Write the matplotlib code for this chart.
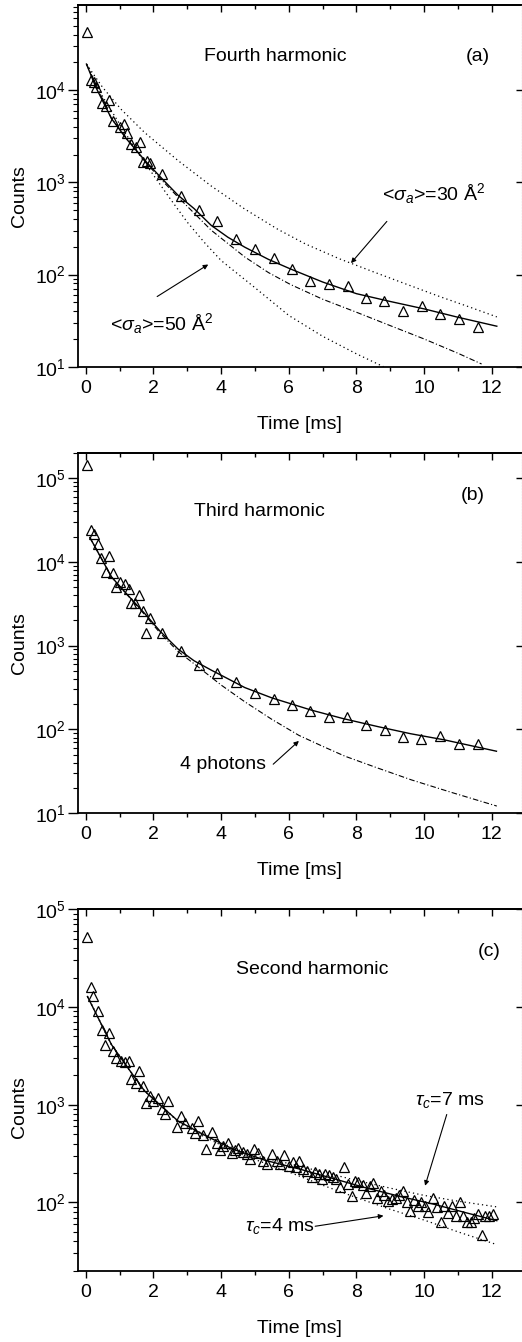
import numpy as np
import matplotlib
matplotlib.use('Agg')
import matplotlib.pyplot as plt
from matplotlib.ticker import LogLocator, NullFormatter, MultipleLocator, NullLocator

plt.rcParams['font.family'] = ['Liberation Sans', 'DejaVu Sans']
plt.rcParams['mathtext.fontset'] = 'custom'
plt.rcParams['mathtext.rm'] = 'Liberation Sans'
plt.rcParams['mathtext.it'] = 'Liberation Sans:italic'
plt.rcParams['mathtext.sf'] = 'Liberation Sans'

# ---------------- Panel (a): Fourth harmonic ----------------
a_t = [0.05, 0.14, 0.24, 0.31, 0.48, 0.59, 0.69, 0.79, 1.00, 1.12, 1.23, 1.35, 1.47,
       1.60, 1.70, 1.81, 1.91, 2.24, 2.80, 3.34, 3.89, 4.45, 5.00, 5.55, 6.10, 6.63,
       7.19, 7.74, 8.29, 8.83, 9.39, 9.93, 10.48, 11.04, 11.60]
a_y = [43000, 12800, 12300, 10700, 7200, 6700, 7800, 4640, 4000, 4260, 3390, 2630, 2420,
       2750, 1660, 1690, 1620, 1220, 710, 497, 377, 242, 190, 151, 114, 86,
       78, 75, 55, 52, 40.6, 45, 37.4, 32.7, 27.2]

a_fit_t = [0.02, 0.3, 0.76, 1.2, 1.74, 2.2, 2.73, 3.2, 3.71, 4.2, 4.7, 5.4, 6.05, 7.0,
           8.0, 9.0, 10.0, 11.0, 12.15]
a_fit_y = [19200, 10700, 4920, 2970, 1740, 1150, 723, 520, 341, 254, 198, 146, 115, 83,
           62, 51, 42.4, 34.4, 27.5]

a_dd_t = [0.02, 0.76, 1.74, 2.2, 2.73, 3.71, 4.7, 5.4, 6.05, 7.0, 8.0, 9.0, 10.0, 11.0, 11.7]
a_dd_y = [19200, 4920, 1700, 1100, 690, 302, 155, 105, 78, 54, 39, 27.9, 20.0, 14.0, 10.7]

a_s30_t = [0.02, 0.5, 1.05, 1.74, 2.73, 3.71, 4.7, 5.68, 6.5, 7.5, 8.5, 9.5, 10.5, 11.3, 12.15]
a_s30_y = [19200, 10700, 6170, 3470, 1720, 912, 513, 309, 214, 148, 107, 78, 57, 45, 34.7]

a_s50_t = [0.02, 0.5, 1.0, 1.5, 2.0, 2.5, 3.0, 3.5, 4.0, 5.0, 6.0, 7.0, 8.0, 8.8]
a_s50_y = [19200, 8500, 4300, 2200, 1200, 660, 370, 224, 142, 72, 36, 21.4, 13.8, 10.0]

# ---------------- Panel (b): Third harmonic ----------------
b_t = [0.04, 0.15, 0.24, 0.36, 0.46, 0.59, 0.69, 0.79, 0.90, 1.02, 1.15, 1.27, 1.35, 1.45,
       1.58, 1.69, 1.79, 1.89, 2.24, 2.80, 3.35, 3.89, 4.44, 4.99, 5.55, 6.10, 6.64,
       7.18, 7.73, 8.29, 8.84, 9.38, 9.92, 10.46, 11.03, 11.58]
b_y = [141000, 23800, 21400, 16500, 11000, 7600, 11700, 7380, 5000, 5750, 5500, 4800, 3230, 3190,
       3980, 2600, 1400, 2110, 1420, 860, 585, 474, 364, 274, 229, 195, 167,
       141, 141, 113, 98, 80.5, 78, 83, 68, 68]

b_fit_t = [0.12, 0.76, 1.2, 1.74, 2.2, 2.73, 3.2, 3.71, 4.2, 4.7, 5.5, 6.67, 7.6, 8.64,
           9.6, 10.61, 12.14]
b_fit_y = [19500, 6600, 4170, 2420, 1480, 908, 660, 510, 403, 316, 238, 170, 135, 108,
           89, 75, 55]

b_dd_t = [0.12, 0.76, 1.74, 2.2, 2.73, 3.32, 4.0, 4.7, 5.5, 6.3, 7.0, 7.66, 8.6, 9.63,
          10.8, 12.15]
b_dd_y = [19500, 6600, 2340, 1410, 850, 558, 339, 214, 132, 85, 63, 48, 35, 25,
          17.8, 12.2]

# ---------------- Panel (c): Second harmonic ----------------
c_t = [0.05, 0.14, 0.22, 0.36, 0.48, 0.58, 0.69, 0.79, 0.90, 1.03, 1.15, 1.27, 1.35, 1.47,
       1.58, 1.69, 1.79, 1.89, 1.99, 2.14, 2.24, 2.35, 2.43, 2.69, 2.80, 2.94, 3.13, 3.23,
       3.33, 3.46, 3.56, 3.72, 3.89, 3.97, 4.06, 4.20, 4.32, 4.42, 4.51, 4.64, 4.76, 4.86,
       4.98, 5.10, 5.25, 5.35, 5.50, 5.65, 5.75, 5.87, 6.02, 6.12, 6.22, 6.30, 6.43, 6.55,
       6.68, 6.78, 6.88, 6.98, 7.07, 7.18, 7.30, 7.41, 7.52, 7.64, 7.74, 7.86, 7.96, 8.06,
       8.18, 8.29, 8.40, 8.50, 8.62, 8.72, 8.83, 8.93, 9.04, 9.16, 9.26, 9.39, 9.49, 9.59,
       9.70, 9.83, 9.92, 10.03, 10.13, 10.26, 10.38, 10.49, 10.59, 10.70, 10.82, 10.94,
       11.06, 11.16, 11.26, 11.38, 11.48, 11.59, 11.70, 11.80, 11.92, 12.03]
c_y = [52500, 16200, 13100, 9000, 5870, 4120, 5430, 3520, 3020, 2790, 2720, 2790, 1850, 1680,
       2200, 1550, 1050, 1225, 1090, 1180, 895, 810, 1090, 597, 765, 655, 582, 518,
       680, 486, 355, 525, 403, 344, 380, 403, 324, 345, 364, 330, 311, 276,
       355, 324, 266, 250, 311, 266, 250, 304, 237, 262, 228, 266, 219, 210,
       184, 205, 195, 173, 195, 190, 184, 172, 144, 228, 154, 115, 166, 160,
       150, 124, 148, 157, 112, 130, 119, 104, 108, 111, 118, 131, 100, 81,
       106, 91, 101, 92.5, 80, 111, 89, 62.5, 91, 77, 91, 73,
       100, 73, 62.5, 62.5, 70, 76, 46, 73, 73, 76]

c_fit_t = [0.05, 0.3, 0.76, 1.2, 1.74, 2.2, 2.73, 3.5, 4.36, 5.3, 6.33, 7.3, 8.31, 9.3,
           10.28, 11.2, 12.15]
c_fit_y = [12800, 8600, 4120, 2500, 1380, 990, 680, 490, 350, 270, 219, 176, 140, 115,
           96, 79, 65]

c_t7_t = [0.05, 0.3, 0.76, 1.2, 1.74, 2.2, 2.73, 3.5, 4.36, 5.0, 6.0, 7.0, 8.0, 9.0,
          10.0, 11.0, 12.15]
c_t7_y = [12800, 8600, 4120, 2500, 1380, 990, 680, 495, 360, 300, 250, 205, 168, 140,
          118, 103, 90]

c_t4_t = [0.05, 0.3, 0.76, 1.2, 1.74, 2.2, 2.73, 3.5, 4.36, 5.0, 6.0, 7.0, 8.0, 9.0,
          10.0, 11.0, 12.15]
c_t4_y = [12800, 8600, 4120, 2500, 1380, 990, 670, 470, 335, 275, 205, 150, 112, 85,
          66, 50, 37]

DOT = (0, (1, 2.5))
DASHDOT = (0, (5, 2, 1, 2))

fig = plt.figure(figsize=(5.22, 13.42), dpi=100)
W, H = 522.0, 1342.0
L, R = 78.0, 521.5
FS_TICK = 14
FS_TXT = 14


def make_axes(top_px, bot_px, ylim):
    ax = fig.add_axes([L / W, (H - bot_px) / H, (R - L) / W, (bot_px - top_px) / H])
    ax.set_yscale('log')
    ax.set_xlim(-0.23, 12.88)
    ax.set_ylim(*ylim)
    ax.xaxis.set_major_locator(MultipleLocator(2))
    ax.xaxis.set_minor_locator(MultipleLocator(1))
    ax.yaxis.set_major_locator(LogLocator(base=10))
    ax.yaxis.set_minor_locator(LogLocator(base=10, subs=np.arange(2, 10)))
    ax.yaxis.set_minor_formatter(NullFormatter())
    ax.tick_params(axis='x', which='major', direction='out', length=5, width=1.0,
                   labelsize=FS_TICK, pad=4.5)
    ax.tick_params(axis='x', which='minor', direction='out', length=3, width=1.0)
    ax.tick_params(axis='y', which='major', direction='out', length=7, width=1.0,
                   labelsize=FS_TICK, pad=2)
    ax.tick_params(axis='y', which='minor', direction='out', length=3.5, width=0.8)
    for s in ['left', 'bottom', 'top']:
        ax.spines[s].set_linewidth(1.3)
    ax.spines['right'].set_visible(False)
    top = ax.secondary_xaxis('top')
    top.xaxis.set_major_locator(MultipleLocator(2))
    top.xaxis.set_minor_locator(MultipleLocator(1))
    top.tick_params(which='major', direction='in', length=5, width=1.0, labeltop=False)
    top.tick_params(which='minor', direction='in', length=3, width=1.0)
    top.spines['top'].set_linewidth(1.3)
    right = ax.secondary_yaxis('right')
    right.yaxis.set_major_locator(LogLocator(base=10))
    right.yaxis.set_minor_locator(NullLocator())
    right.tick_params(which='major', direction='in', length=4, width=1.0, labelright=False)
    right.spines['right'].set_linestyle(':')
    right.spines['right'].set_linewidth(0.8)
    right.spines['right'].set_color('0.45')
    ax.annotate('Time [ms]', xy=(0.5, 0), xycoords='axes fraction',
                xytext=(0, -57.5 * 0.72), textcoords='offset points',
                ha='center', va='center', fontsize=14)
    return ax


def ylabel(ax, dy_px):
    ax.annotate('Counts', xy=(0, 0.5), xycoords='axes fraction',
                xytext=(-(L - 19) * 0.72, -dy_px * 0.72), textcoords='offset points',
                ha='center', va='center', fontsize=14, rotation=90)


def marks(ax, t, y):
    ax.plot(t, y, linestyle='none', marker='^', ms=6.5, mfc='none', mec='k', mew=0.9)


arrow = dict(arrowstyle='-|>', color='k', lw=0.8, mutation_scale=7, shrinkA=0, shrinkB=0)

# ---- (a)
ax = make_axes(5.0, 366.7, (10, 8.4e4))
ylabel(ax, 10)
ax.plot(a_s30_t, a_s30_y, color='k', lw=0.9, linestyle=DOT)
ax.plot(a_s50_t, a_s50_y, color='k', lw=0.9, linestyle=DOT)
ax.plot(a_dd_t, a_dd_y, color='k', lw=0.8, linestyle=DASHDOT)
ax.plot(a_fit_t, a_fit_y, color='k', lw=1.0)
marks(ax, a_t, a_y)
ax.text(5.6, 23000, 'Fourth harmonic', ha='center', va='center', fontsize=FS_TXT)
ax.text(11.95, 23000, '(a)', ha='right', va='center', fontsize=FS_TXT)
ax.text(8.76, 760, r'<$\sigma_a$>=30 Å$^2$', ha='left', va='center', fontsize=FS_TXT)
ax.text(0.72, 29.3, r'<$\sigma_a$>=50 Å$^2$', ha='left', va='center', fontsize=FS_TXT)
ax.annotate('', xy=(7.84, 133), xytext=(8.9, 377), arrowprops=arrow)
ax.annotate('', xy=(3.62, 128.5), xytext=(2.11, 57.7), arrowprops=arrow)

# ---- (b)
ax = make_axes(452.7, 813.3, (10, 2e5))
ylabel(ax, 10)
ax.plot(b_dd_t, b_dd_y, color='k', lw=0.8, linestyle=DASHDOT)
ax.plot(b_fit_t, b_fit_y, color='k', lw=1.0)
marks(ax, b_t, b_y)
ax.text(5.12, 39400, 'Third harmonic', ha='center', va='center', fontsize=FS_TXT)
ax.text(11.8, 62000, '(b)', ha='right', va='center', fontsize=FS_TXT)
ax.text(4.06, 37.7, '4 photons', ha='center', va='center', fontsize=FS_TXT)
ax.annotate('', xy=(6.3, 73), xytext=(5.54, 38.5), arrowprops=arrow)

# ---- (c)
ax = make_axes(909.3, 1270.7, (20, 1e5))
ylabel(ax, 17)
ax.plot(c_t7_t, c_t7_y, color='k', lw=0.9, linestyle=DOT)
ax.plot(c_t4_t, c_t4_y, color='k', lw=0.9, linestyle=DOT)
ax.plot(c_fit_t, c_fit_y, color='k', lw=1.0)
marks(ax, c_t, c_y)
ax.text(6.68, 24400, 'Second harmonic', ha='center', va='center', fontsize=FS_TXT)
ax.text(12.25, 36900, '(c)', ha='right', va='center', fontsize=FS_TXT)
ax.text(9.73, 1130, r'$\tau_c$=7 ms', ha='left', va='center', fontsize=FS_TXT)
ax.text(4.71, 57.7, r'$\tau_c$=4 ms', ha='left', va='center', fontsize=FS_TXT)
ax.annotate('', xy=(10.03, 148), xytext=(10.67, 794), arrowprops=arrow)
ax.annotate('', xy=(8.8, 73), xytext=(6.78, 57), arrowprops=arrow)

fig.savefig('out.png', dpi=100)
